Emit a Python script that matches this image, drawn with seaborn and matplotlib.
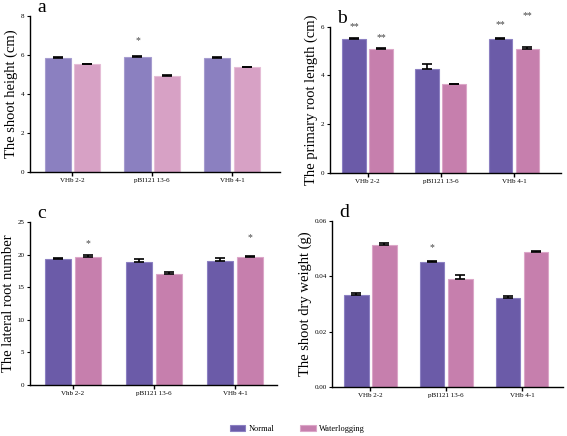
import pandas as pd
import seaborn as sns
import matplotlib.pyplot as plt

# dados
linhas = ["VHb 2-2", "pBI121 13-6", "VHb 4-1"]
linhas_c = ["Vhb 2-2", "pBI121 13-6", "VHb 4-1"]
tratamentos = ["Normal", "Waterlogging"]

altura_normal = [5.87, 5.88, 5.84]
altura_water = [5.53, 4.92, 5.37]
altura_err_n = [0.02, 0.06, 0.04]
altura_err_w = [0.03, 0.06, 0.03]

raiz_normal = [5.51, 4.26, 5.48]
raiz_water = [5.08, 3.64, 5.08]
raiz_err_n = [0.03, 0.22, 0.05]
raiz_err_w = [0.05, 0.02, 0.09]

lateral_normal = [19.35, 18.9, 19.05]
lateral_water = [19.65, 17.1, 19.6]
lateral_err_n = [0.15, 0.5, 0.4]
lateral_err_w = [0.3, 0.3, 0.3]

peso_normal = [0.0333, 0.0453, 0.0322]
peso_water = [0.0513, 0.0391, 0.0489]
peso_err_n = [0.0006, 0.0003, 0.0007]
peso_err_w = [0.0006, 0.0012, 0.0004]

# asteriscos: (grupo, tratamento, y, texto)
estrelas_a = [(1, 0, 6.75, "*")]
estrelas_b = [(0, 0, 6.0, "**"), (0, 1, 5.55, "**"), (2, 0, 6.1, "**"), (2, 1, 6.45, "**")]
estrelas_c = [(0, 1, 21.8, "*"), (2, 1, 22.6, "*")]
estrelas_d = [(1, 0, 0.0505, "*")]

cores_claras = ["#8b80c0", "#d7a1c5"]
cores_escuras = ["#6b5ba8", "#c67fad"]
bordas_claras = ["#a69ccf", "#e5bdd6"]
bordas_escuras = ["#8c80c2", "#dba6c8"]

plt.rcParams["font.family"] = ["Liberation Serif", "DejaVu Serif"]

fig = plt.figure(figsize=(5.67, 4.36), dpi=100)


def painel(pos, cats, normal, water, err_n, err_w, ylim, yticks, ylabel, letra,
           estrelas, cores, bordas, fmt=None, xlim=(-0.53, 2.6)):
    ax = fig.add_axes(pos)
    df = pd.DataFrame({
        "linha": cats * 2,
        "trat": [tratamentos[0]] * 3 + [tratamentos[1]] * 3,
        "valor": list(normal) + list(water),
    })
    sns.barplot(data=df, x="linha", y="valor", hue="trat", palette=cores,
                saturation=1, errorbar=None, width=0.74, gap=0.12, ax=ax,
                legend=False, linewidth=0.8)
    erros = [err_n, err_w]
    barras = list(ax.containers)
    pos_bar = [[b.get_x() + b.get_width() / 2 for b in c] for c in barras]
    for i, cont in enumerate(barras):
        for j, bar in enumerate(cont):
            bar.set_edgecolor(bordas[i])
            ax.errorbar(pos_bar[i][j], bar.get_height(), yerr=[[0], [erros[i][j]]],
                        fmt="none", ecolor="black", elinewidth=1.2,
                        capsize=3.8, capthick=1.2)
    for g, t, y, s in estrelas:
        ax.text(pos_bar[t][g], y, s, ha="center", va="center", fontsize=7,
                color="#444444", clip_on=False)
    ax.set_xlim(*xlim)
    ax.set_ylim(*ylim)
    ax.set_yticks(yticks)
    if fmt:
        ax.set_yticklabels([fmt.format(v) for v in yticks])
    ax.set_xlabel("")
    ax.set_ylabel(ylabel, fontsize=10.5, labelpad=2)
    ax.tick_params(axis="both", labelsize=5, length=3, width=1, pad=1.5)
    ax.tick_params(axis="y", width=0.8, length=2.5)
    for lado in ["top", "right"]:
        ax.spines[lado].set_visible(False)
    for lado in ["left", "bottom"]:
        ax.spines[lado].set_linewidth(1)
    ax.text(0.03, 1.0, letra, transform=ax.transAxes, fontsize=14,
            ha="left", va="bottom")
    return ax


painel([0.053, 0.6055, 0.441, 0.3575], linhas, altura_normal, altura_water,
       altura_err_n, altura_err_w, (0, 8), [0, 2, 4, 6, 8],
       "The shoot height (cm)", "a", estrelas_a, cores_claras, bordas_claras)
painel([0.5815, 0.604, 0.4075, 0.335], linhas, raiz_normal, raiz_water,
       raiz_err_n, raiz_err_w, (0, 6), [0, 2, 4, 6],
       "The primary root length (cm)", "b", estrelas_b, cores_escuras,
       bordas_escuras, xlim=(-0.52, 2.64))
painel([0.053, 0.117, 0.436, 0.373], linhas_c, lateral_normal, lateral_water,
       lateral_err_n, lateral_err_w, (0, 25), [0, 5, 10, 15, 20, 25],
       "The lateral root number", "c", estrelas_c, cores_escuras, bordas_escuras,
       xlim=(-0.53, 2.52))
painel([0.586, 0.113, 0.407, 0.380], linhas, peso_normal, peso_water,
       peso_err_n, peso_err_w, (0, 0.06), [0, 0.02, 0.04, 0.06],
       "The shoot dry weight (g)", "d", estrelas_d, cores_escuras,
       bordas_escuras, fmt="{:.2f}", xlim=(-0.5, 2.54))

# legenda
handles = [plt.Rectangle((0, 0), 1, 1, facecolor=cores_escuras[i],
                         edgecolor=bordas_escuras[i], linewidth=0.8)
           for i in range(2)]
fig.legend(handles, tratamentos, loc="center", bbox_to_anchor=(0.524, 0.016),
           ncol=2, frameon=False, fontsize=6, handlelength=1.9,
           handleheight=0.6, columnspacing=3, handletextpad=0.4)

plt.savefig("out.png", dpi=100)
